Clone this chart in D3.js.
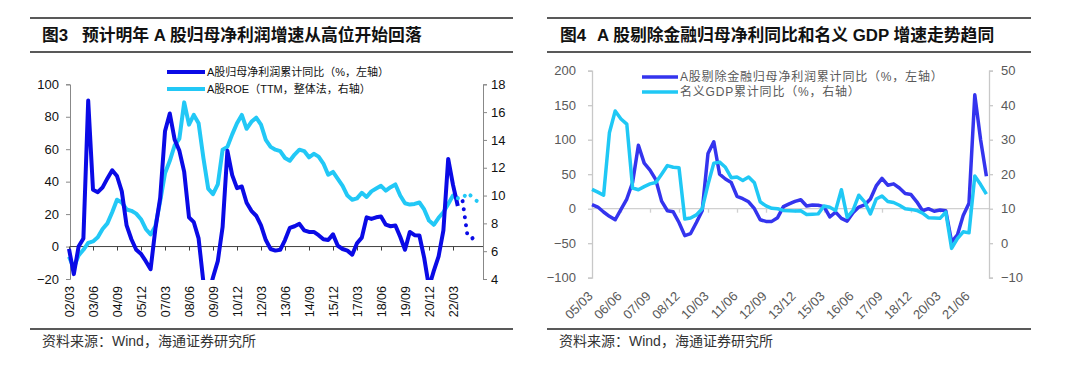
<!DOCTYPE html>
<html>
<head>
<meta charset="utf-8">
<title>A股盈利增速</title>
<script src="https://cdn.jsdelivr.net/npm/d3@7/dist/d3.min.js"></script>
<style>
  body { margin: 0; background: #fff; }
  svg text { font-family: "Liberation Sans", Arial, "Noto Sans CJK SC", sans-serif; }
  .title { font-weight: 700; font-size: 16.8px; fill: #111; }
  .note { font-size: 14px; fill: #333; }
  .ax3 path, .ax3 line { stroke: #888; }
  .ax3 text { font-size: 13px; fill: #111; }
  .ax4 path, .ax4 line { stroke: #c8c8c8; stroke-width: 1.3px; }
  .ax4 text { font-size: 13px; fill: #595959; }
</style>
</head>
<body>
<svg id="chart" width="1080" height="367"></svg>
<script>
// ---- data: figure 3 (quarterly, from 02/03) ----
var leftQuarters = [];
for (var y = 2002; y <= 2023; y++) {
  ["03", "06", "09", "12"].forEach(function(m) { leftQuarters.push(String(y).slice(2) + "/" + m); });
}
leftQuarters = leftQuarters.slice(0, 86);

// A股归母净利润累计同比 (%, left axis)
var profitYoY = [-1.5, -17, 0, 5, 90, 35, 33.5, 36.5, 42, 47,
  43.5, 34, 13, 4.5, -2, -4.5, -9, -14, 11, 30,
  71, 82, 66, 59, 46, 18, 15, 5, -22, -30,
  -19, -9, 12, 59, 44, 36, 37, 27, 22, 19,
  13, 4, -1.5, -2.5, -2, 4, 11.5, 12.5, 14, 10,
  9, 9, 7, 4.5, 4, 7.5, 0.5, -1.5, -2.5, -5,
  2, 5.5, 18, 17, 18, 18.5, 13.5, 12.5, 13, 6,
  -2, 9, 7, 6.8, -7, -25, -15, -6, 10, 54,
  38, 25];
// A股ROE (TTM, 整体法, right axis)
var roeTTM = [5.6, 4.8, 5.7, 6.1, 6.6, 6.7, 7.0, 7.6, 8.0, 8.8,
  9.7, 9.5, 9.0, 8.9, 8.7, 8.3, 7.6, 7.2, 7.8, 9.6,
  11.6, 12.5, 13.6, 14.1, 16.7, 15.1, 15.8, 15.2, 12.7, 10.5,
  10.1, 10.8, 13.3, 13.5, 14.4, 15.2, 15.8, 14.8, 15.3, 15.6,
  15.1, 14.0, 13.5, 13.3, 13.2, 12.7, 12.5, 12.95, 13.3, 13.2,
  12.75, 13.0, 12.8, 12.3, 11.5, 11.7, 11.2, 10.7, 10.0, 9.7,
  9.8, 10.2, 9.9, 10.3, 10.5, 10.7, 10.35, 10.6, 10.8, 10.0,
  9.45, 9.35, 9.4, 9.5, 9.0, 8.2, 7.9, 8.4, 8.8, 9.4,
  10.0, 9.8];
// forecasts (dotted)
var forecastQuarters = ["22/09", "22/12", "23/03", "23/06"];
var profitForecast = [28, 7, 5, 7];
var roeQuarters = ["22/06", "22/09", "22/12", "23/03", "23/06"];
var roeForecast = [9.8, 9.8, 10.2, 9.9, 9.6];

var leftTicks = [-20, 0, 20, 40, 60, 80, 100];
var rightTicks = [4, 6, 8, 10, 12, 14, 16, 18];

// ---- data: figure 4 (quarterly, from 05/03) ----
var rightQuarters = [];
for (var y2 = 2005; y2 <= 2022; y2++) {
  ["03", "06", "09", "12"].forEach(function(m) { rightQuarters.push(String(y2).slice(2) + "/" + m); });
}
rightQuarters = rightQuarters.slice(0, 69);

// A股剔除金融归母净利润累计同比 (%, left axis)
var exFinProfit = [5.8, 2.4, -4.8, -11, -16, -1, 14, 38, 92, 66,
  56, 42, 11, -3, -4.5, -20, -39, -36, -20, -3,
  80, 97, 50, 43, 38, 18, 14.5, 10, 0, -16,
  -18.4, -18.4, -13, 3, 7, 10.6, 13, 4, 5.5, 5,
  3, -12, -5, -14, -18, -6, 2.4, 5.5, 14, 33,
  44, 34, 36, 30, 22, 20.5, 10, -3, 0, -3.7,
  -2, -3, -48, -38, -10, 8, 165, 100, 47];
// 名义GDP累计同比 (%, right axis)
var nominalGDP = [15.6, 14.8, 13.9, 32, 38.3, 36, 34.5, 16, 15.5, 16.4,
  17.2, 17.6, 20, 22.5, 22, 21.9, 7, 7.3, 8.2, 10,
  17, 23.2, 23.5, 22, 19, 19.2, 18.2, 19.2, 17.5, 12,
  10.8, 10.1, 10, 9.5, 9.4, 9.3, 9.4, 8.3, 8.4, 8.5,
  10.8, 10.4, 9.5, 15.5, 7.5, 9.5, 13.9, 12, 8.5, 12.8,
  13.7, 12.1, 11.8, 11, 10, 9.8, 9.5, 8.7, 7.4, 7.3,
  7.2, 9, -1.5, 1.3, 3.3, 3.0, 19.5, 17, 14.2];

var leftTicks4 = [-100, -50, 0, 50, 100, 150, 200];
var rightTicks4 = [-10, 0, 10, 20, 30, 40, 50];

var svg = d3.select("#chart");

// header / footer rules
function frame(x0, x1) {
  [18, 52, 329].forEach(function(yy) {
    svg.append("line").attr("x1", x0).attr("x2", x1).attr("y1", yy).attr("y2", yy)
      .attr("stroke", "#222").attr("stroke-width", 1.4);
  });
}
frame(30, 513);
frame(547, 1031);

svg.append("text").attr("class", "title").attr("x", 42).attr("y", 41).text("图3");
svg.append("text").attr("class", "title").attr("x", 82).attr("y", 41).text("预计明年 A 股归母净利润增速从高位开始回落");
svg.append("text").attr("class", "title").attr("x", 560).attr("y", 41).text("图4");
svg.append("text").attr("class", "title").attr("x", 597).attr("y", 41).text("A 股剔除金融归母净利同比和名义 GDP 增速走势趋同");
svg.append("text").attr("class", "note").attr("x", 42).attr("y", 346).text("资料来源：Wind，海通证券研究所");
svg.append("text").attr("class", "note").attr("x", 559).attr("y", 346).text("资料来源：Wind，海通证券研究所");

// ================= figure 3 =================
var dark3 = "#0a0ae6", light3 = "#22c8f6";
var x3 = d3.scalePoint().domain(leftQuarters).range([69, 477]);
var y3 = d3.scaleLinear().domain([-20, 100]).range([279, 84.3]);
var y3r = d3.scaleLinear().domain([4, 18]).range([279, 84.3]);
var tickQ3 = leftQuarters.filter(function(d, i) { return i % 5 === 0 && i <= 80; });

var g3 = svg.append("g");
g3.append("g").attr("class", "ax3").attr("transform", "translate(70,0)")
  .call(d3.axisLeft(y3).tickValues(leftTicks).tickSize(4).tickPadding(7));
g3.append("g").attr("class", "ax3").attr("transform", "translate(483,0)")
  .call(d3.axisRight(y3r).tickValues(rightTicks).tickSize(4).tickPadding(4));

g3.append("line").attr("x1", 70).attr("x2", 483).attr("y1", y3(0)).attr("y2", y3(0))
  .attr("stroke", "#404040").attr("stroke-width", 1);
var zt3 = g3.append("g").attr("transform", "translate(0," + y3(0) + ")")
  .call(d3.axisBottom(x3).tickValues(tickQ3).tickSize(4).tickFormat(""));
zt3.select(".domain").remove();
zt3.selectAll("line").attr("stroke", "#404040");

var xl3 = g3.append("g").attr("class", "ax3").attr("transform", "translate(0,286)")
  .call(d3.axisBottom(x3).tickValues(tickQ3).tickSize(0).tickPadding(0));
xl3.select(".domain").remove();
xl3.selectAll("text").attr("transform", "rotate(-90)").attr("text-anchor", "end")
  .attr("x", 0).attr("y", 0).attr("dy", "0.35em").style("font-size", "12.5px");

svg.append("clipPath").attr("id", "clip3").append("rect")
  .attr("x", 60).attr("y", 60).attr("width", 430).attr("height", 220);
var plot3 = g3.append("g").attr("clip-path", "url(#clip3)");

var line3 = d3.line().x(function(d, i) { return x3(leftQuarters[i]); }).y(function(d) { return y3(d); });
var line3r = d3.line().x(function(d, i) { return x3(leftQuarters[i]); }).y(function(d) { return y3r(d); });

plot3.append("path").datum(roeTTM).attr("d", line3r)
  .attr("fill", "none").attr("stroke", light3).attr("stroke-width", 4).attr("stroke-linejoin", "round");
plot3.append("path").datum(profitYoY).attr("d", line3)
  .attr("fill", "none").attr("stroke", dark3).attr("stroke-width", 4).attr("stroke-linejoin", "round");

plot3.append("path").datum(roeForecast)
  .attr("d", d3.line().x(function(d, i) { return x3(roeQuarters[i]); }).y(function(d) { return y3r(d); }))
  .attr("fill", "none").attr("stroke", light3).attr("stroke-width", 4)
  .attr("stroke-linecap", "round").attr("stroke-dasharray", "0.1 8");
plot3.append("path").datum(profitForecast)
  .attr("d", d3.line().x(function(d, i) { return x3(forecastQuarters[i]); }).y(function(d) { return y3(d); }))
  .attr("fill", "none").attr("stroke", dark3).attr("stroke-width", 4)
  .attr("stroke-linecap", "round").attr("stroke-dasharray", "0.1 8");

// legend
var leg3 = [["A股归母净利润累计同比（%，左轴）", dark3], ["A股ROE（TTM，整体法，右轴）", light3]];
leg3.forEach(function(d, i) {
  var yy = 72 + i * 17;
  g3.append("line").attr("x1", 167).attr("x2", 205).attr("y1", yy).attr("y2", yy)
    .attr("stroke", d[1]).attr("stroke-width", 4);
  g3.append("text").attr("x", 207).attr("y", yy).attr("dy", "0.35em")
    .style("font-size", "11px").attr("fill", "#111").text(d[0]);
});

// ================= figure 4 =================
var dark4 = "#3434ee", light4 = "#1fc8f5";
var x4 = d3.scalePoint().domain(rightQuarters).range([592, 986.4]);
var y4 = d3.scaleLinear().domain([-100, 200]).range([277.7, 70.7]);
var y4r = d3.scaleLinear().domain([-10, 50]).range([277.7, 70.7]);
var tickQ4 = rightQuarters.filter(function(d, i) { return i % 5 === 0; });

var g4 = svg.append("g");
g4.append("g").attr("class", "ax4").attr("transform", "translate(592,0)")
  .call(d3.axisLeft(y4).tickValues(leftTicks4).tickSize(4).tickPadding(12));
g4.append("g").attr("class", "ax4").attr("transform", "translate(989,0)")
  .call(d3.axisRight(y4r).tickValues(rightTicks4).tickSize(4).tickPadding(8));

g4.append("line").attr("x1", 592).attr("x2", 989).attr("y1", y4(0)).attr("y2", y4(0))
  .attr("stroke", "#d0d0d0").attr("stroke-width", 1.3);
var zt4 = g4.append("g").attr("transform", "translate(0," + y4(0) + ")")
  .call(d3.axisBottom(x4).tickValues(tickQ4).tickSize(4).tickFormat(""));
zt4.select(".domain").remove();
zt4.selectAll("line").attr("stroke", "#d0d0d0").attr("stroke-width", 1.3);

var xl4 = g4.append("g").attr("class", "ax4").attr("transform", "translate(1,297)")
  .call(d3.axisBottom(x4).tickValues(tickQ4).tickSize(0).tickPadding(0));
xl4.select(".domain").remove();
xl4.selectAll("text").attr("transform", "rotate(-45)").attr("text-anchor", "end")
  .attr("x", 0).attr("y", 0).attr("dy", 0).style("font-size", "13px");

var line4 = d3.line().x(function(d, i) { return x4(rightQuarters[i]); }).y(function(d) { return y4(d); });
var line4r = d3.line().x(function(d, i) { return x4(rightQuarters[i]); }).y(function(d) { return y4r(d); });

g4.append("path").datum(exFinProfit).attr("d", line4)
  .attr("fill", "none").attr("stroke", dark4).attr("stroke-width", 3.5).attr("stroke-linejoin", "round");
g4.append("path").datum(nominalGDP).attr("d", line4r)
  .attr("fill", "none").attr("stroke", light4).attr("stroke-width", 3.5).attr("stroke-linejoin", "round");

var leg4 = [["A股剔除金融归母净利润累计同比（%，左轴）", dark4], ["名义GDP累计同比（%，右轴）", light4]];
leg4.forEach(function(d, i) {
  var yy = 77 + i * 15;
  g4.append("line").attr("x1", 642).attr("x2", 678).attr("y1", yy).attr("y2", yy)
    .attr("stroke", d[1]).attr("stroke-width", 3.5);
  g4.append("text").attr("x", 680).attr("y", yy).attr("dy", "0.35em")
    .style("font-size", "12px").style("letter-spacing", "0.8px").attr("fill", "#595959").text(d[0]);
});
</script>
</body>
</html>
